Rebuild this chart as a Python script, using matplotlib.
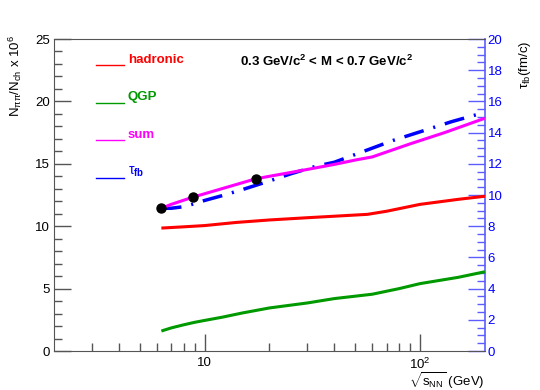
import numpy as np
import matplotlib
matplotlib.use('Agg')
import matplotlib.pyplot as plt
from matplotlib.ticker import FixedLocator, FixedFormatter, NullFormatter, MultipleLocator

plt.rcParams['font.family'] = ['Liberation Sans', 'DejaVu Sans']
plt.rcParams['mathtext.fontset'] = 'custom'
plt.rcParams['mathtext.rm'] = 'Liberation Sans'
plt.rcParams['mathtext.it'] = 'Liberation Sans'
plt.rcParams['mathtext.bf'] = 'Liberation Sans:bold'

# hadronic contribution (left axis)
had_x = [6.3, 8, 10, 14, 20, 30, 40, 57, 70, 100, 150, 200]
had_y = [9.85, 9.95, 10.05, 10.3, 10.5, 10.68, 10.8, 10.95, 11.2, 11.75, 12.15, 12.4]

# QGP contribution (left axis)
qgp_x = [6.3, 7, 8, 9, 10, 12, 15, 20, 30, 40, 60, 80, 100, 150, 200]
qgp_y = [1.6, 1.85, 2.1, 2.3, 2.45, 2.7, 3.05, 3.45, 3.85, 4.2, 4.55, 5.0, 5.4, 5.9, 6.35]

# sum (left axis)
sum_x = [6.3, 7, 8.8, 10, 12, 17.3, 20, 25, 30, 40, 50, 60, 90, 130, 200]
sum_y = [11.43, 11.75, 12.32, 12.6, 13.0, 13.8, 14.0, 14.3, 14.55, 14.95, 15.3, 15.55, 16.6, 17.5, 18.65]

# SPS points
pts_x = [6.3, 8.8, 17.3]
pts_y = [11.43, 12.32, 13.8]

# fireball lifetime (right axis, fm/c)
tau_x = [6.3, 7, 8, 9, 10, 12, 15, 20, 25, 33, 40, 75, 100, 140, 200]
tau_y = [9.15, 9.15, 9.25, 9.45, 9.65, 9.95, 10.35, 10.9, 11.35, 11.85, 12.1, 13.5, 14.05, 14.7, 15.3]

frame_col = '#555555'
axis_blue = '#5c5cff'

fig = plt.figure(figsize=(5.4, 3.9), dpi=100)
ax = fig.add_axes([0.1, 0.1, 0.798, 0.8])
ax2 = ax.twinx()

ax.plot(had_x, had_y, color='#ff0000', lw=2.2, solid_capstyle='butt')
ax.plot(qgp_x, qgp_y, color='#009900', lw=2.2, solid_capstyle='butt')
ax.plot(sum_x, sum_y, color='#ff00ff', lw=2.2, solid_capstyle='butt')
ax.plot(pts_x, pts_y, 'o', color='black', ms=6.5, zorder=5)

tl, = ax2.plot(tau_x, tau_y, color='#0000ff', lw=2.5)
tl.set_dashes([5.8, 2.9, 0.6, 2.9])

ax.set_zorder(ax2.get_zorder() + 1)
ax.patch.set_visible(False)

ax.set_xscale('log')
ax.set_xlim(2, 200)
ax.set_ylim(0, 25)
ax2.set_ylim(0, 20)

ax.xaxis.set_major_locator(FixedLocator([10, 100]))
ax.xaxis.set_major_formatter(FixedFormatter(['10', '$10^2$']))
ax.xaxis.set_minor_locator(FixedLocator([3, 4, 5, 6, 7, 8, 9, 20, 30, 40, 50, 60, 70, 80, 90]))
ax.xaxis.set_minor_formatter(NullFormatter())
ax.yaxis.set_major_locator(MultipleLocator(5))
ax.yaxis.set_minor_locator(MultipleLocator(1))
ax2.yaxis.set_major_locator(MultipleLocator(2))
ax2.yaxis.set_minor_locator(MultipleLocator(0.5))

ax.tick_params(which='both', direction='in', colors=frame_col, labelcolor='black', labelsize=9.5,
               top=False, right=False)
ax.tick_params(which='major', length=12, width=1)
ax.tick_params(which='minor', length=6, width=1)
ax.tick_params(axis='y', pad=3)
ax.tick_params(axis='x', pad=4)
ax2.tick_params(which='both', direction='in', colors=axis_blue, labelcolor='#0000ff', labelsize=9.5, pad=2)
ax2.tick_params(which='major', length=12, width=1)
ax2.tick_params(which='minor', length=6, width=1)

for s in ['left', 'bottom', 'top']:
    ax.spines[s].set_color(frame_col)
ax.spines['right'].set_visible(False)
for s in ['left', 'bottom', 'top']:
    ax2.spines[s].set_visible(False)
ax2.spines['right'].set_color(axis_blue)
ax2.spines['right'].set_linewidth(1.2)

# legend drawn by hand, ROOT style
leg = [('hadronic', '#ff0000', 0.9157),
       ('QGP', '#009900', 0.7949),
       ('sum', '#ff00ff', 0.6753)]
for name, col, yy in leg:
    ax.plot([0.0975, 0.162], [yy, yy], color=col, lw=1, transform=ax.transAxes)
    ax.text(0.171, yy + 0.008, name, color=col, fontsize=9.5, fontweight='bold',
            transform=ax.transAxes, va='baseline', ha='left')
ax.plot([0.0975, 0.162], [0.5535, 0.5535], color='#0000ff', lw=1, transform=ax.transAxes)
ax.text(0.171, 0.565, r'$\tau_{\mathbf{fb}}$', color='#0000ff', fontsize=10,
        transform=ax.transAxes, va='baseline', ha='left')

ax.text(0.4316, 0.915, r'0.3 GeV/c$^{\mathbf{2}}$ < M < 0.7 GeV/c$^{\mathbf{2}}$',
        fontsize=9.5, fontweight='bold', transform=ax.transAxes, va='baseline', ha='left')

ax.text(1.0, -0.096, r'$\sqrt{s_{NN}}$ (GeV)', fontsize=9.5, transform=ax.transAxes,
        ha='right', va='center')
fig.text(0.028, 0.91, r'N$_{\pi\pi}$/N$_{ch}$ x 10$^{6}$', rotation=90, fontsize=9.5,
         ha='center', va='top')
fig.text(0.972, 0.897, r'$\tau_{fb}$(fm/c)', rotation=90, fontsize=9.5, ha='center', va='top')

fig.savefig('out.png', dpi=100)
